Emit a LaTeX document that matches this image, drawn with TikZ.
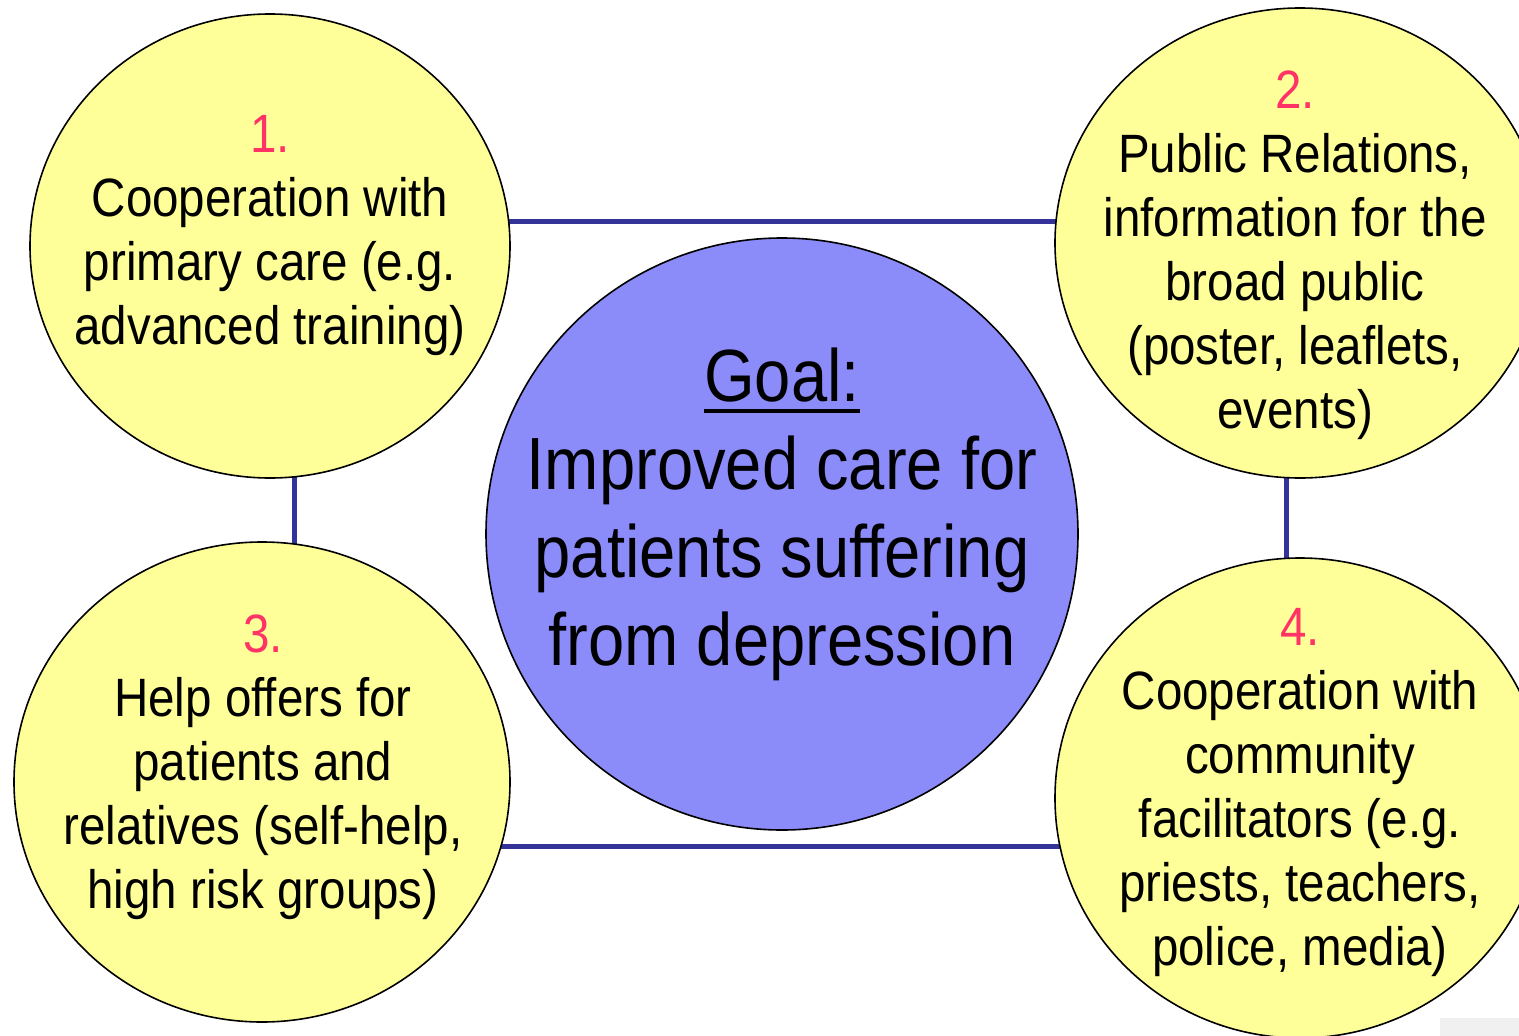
\documentclass[tikz,border=0pt]{standalone}
\usepackage{fontspec}
\setmainfont{Liberation Sans}[FakeStretch=0.88]
\usetikzlibrary{shapes.geometric}
\definecolor{petal}{RGB}{255,255,153}
\definecolor{core}{RGB}{139,139,249}
\definecolor{linkblue}{RGB}{51,51,153}
\definecolor{numred}{RGB}{255,51,102}
\pgfdeclarelayer{bg}
\pgfsetlayers{bg,main}
\tikzset{
  petalnode/.style={ellipse, draw=black, line width=1.6pt, fill=petal, inner sep=0pt},
  corenode/.style={ellipse, draw=black, line width=1.6pt, fill=core, inner sep=0pt},
  link/.style={draw=linkblue, line width=5pt},
  smalltext/.style={align=center, anchor=base, font=\fontsize{54}{64}\selectfont, inner sep=0pt},
  bigtext/.style={align=center, anchor=base, font=\fontsize{74}{88}\selectfont, inner sep=0pt}
}
% heavy underline for the heading
\newcommand{\goalline}[1]{\setbox0\hbox{#1}\rlap{\rule[-12pt]{\wd0}{4pt}}\box0}
\begin{document}
\begin{tikzpicture}[x=1pt,y=-1pt]
\useasboundingbox (0,0) rectangle (1519,1036);
\clip (0,0) rectangle (1519,1036);

% four topic circles and the central goal
\node[petalnode, minimum width=480pt, minimum height=464pt] (c1) at (270,246) {};
\node[petalnode, minimum width=490pt, minimum height=470pt] (c2) at (1300,243) {};
\node[petalnode, minimum width=496pt, minimum height=480pt] (c3) at (262,782) {};
\node[petalnode, minimum width=490pt, minimum height=480pt] (c4) at (1300,798) {};
\node[corenode, minimum width=592pt, minimum height=592pt] (goal) at (782,534) {};

% connecting frame behind the circles
\begin{pgfonlayer}{bg}
  \fill[white] (0,0) rectangle (1519,1036);
  \draw[link] (c1 |- 0,221) -- (c2 |- 0,221);
  \draw[link] (c3 |- 0,846) -- (c4 |- 0,846);
  \draw[link] (294,0 |- c1) -- (294,0 |- c3);
  \draw[link] (1286,0 |- c2) -- (1286,0 |- c4);
\end{pgfonlayer}

% labels (anchored at the baseline of their last line)
\node[smalltext] (t1) at (270,344) {\textcolor{numred}{1.}\\Cooperation with\\primary care (e.g.\\advanced training)};
\node[smalltext] (t2) at (1295,428) {\textcolor{numred}{2.}\\Public Relations,\\information for the\\broad public\\(poster, leaflets,\\events)};
\node[smalltext] (t3) at (263,908) {\textcolor{numred}{3.}\\Help offers for\\patients and\\relatives (self-help,\\high risk groups)};
\node[smalltext] (t4) at (1300,965) {\textcolor{numred}{4.}\\Cooperation with\\community\\facilitators (e.g.\\priests, teachers,\\police, media)};
\node[bigtext] (tg) at (782,665) {\goalline{Goal:}\\Improved care for\\patients suffering\\from depression};

% small grey tab in the lower right corner
\fill[black!6] (1440,1018) rectangle (1519,1036);
\end{tikzpicture}
\end{document}
